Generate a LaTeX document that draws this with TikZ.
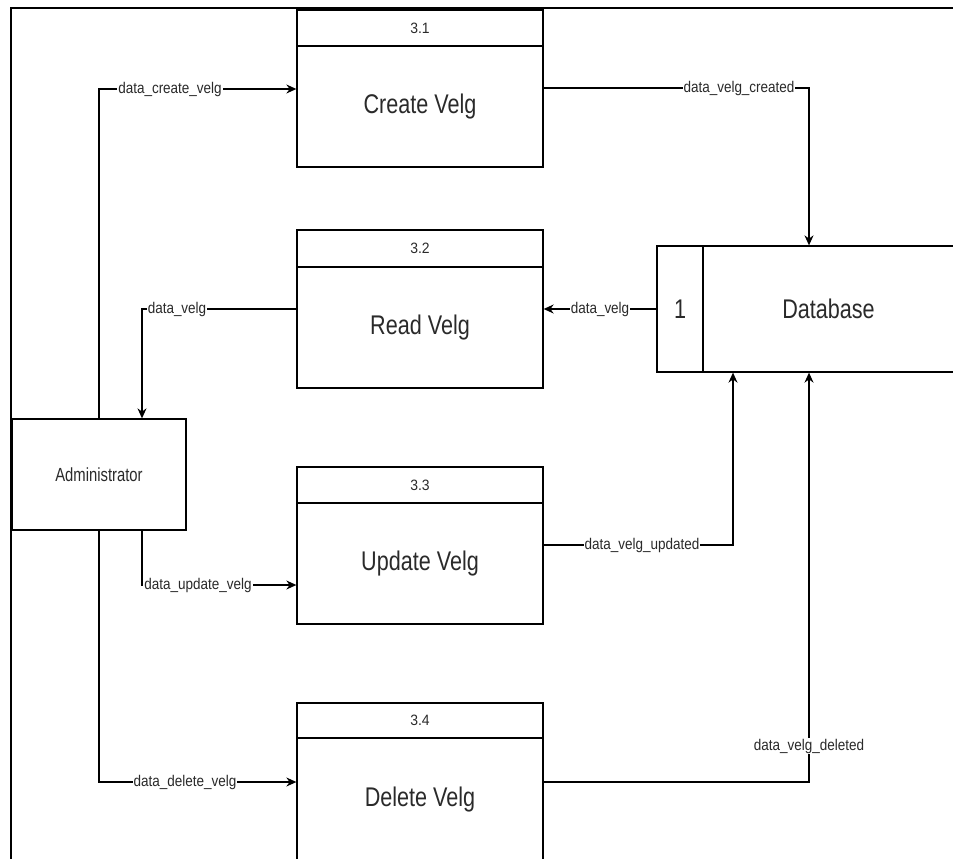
\documentclass[tikz,border=0pt]{standalone}
\usepackage{fontspec}
\setmainfont{Liberation Sans}
\newfontfamily\numfont[FakeStretch=0.93]{Liberation Sans}
\newfontfamily\titlefont[FakeStretch=0.8]{Liberation Sans}
\newfontfamily\lblfont[FakeStretch=0.87]{Liberation Sans}
\newfontfamily\admfont[FakeStretch=0.78]{Liberation Sans}
\usetikzlibrary{arrows.meta}
\definecolor{txt}{HTML}{2A2A2A}
\begin{document}
\begin{tikzpicture}[x=1pt,y=-1pt,
  boxline/.style={draw=black, line width=1.3pt},
  hdr/.style={boxline, minimum width=246pt, inner sep=0pt, text=txt,
    font=\numfont\fontsize{15}{17}\selectfont},
  bodybox/.style={boxline, minimum width=246pt, inner sep=0pt, text=txt,
    font=\titlefont\fontsize{27}{32}\selectfont},
  storebox/.style={boxline, inner sep=0pt, text=txt,
    font=\titlefont\fontsize{27}{32}\selectfont},
  entitybox/.style={boxline, inner sep=0pt, text=txt,
    font=\admfont\fontsize{19}{22}\selectfont},
  lbl/.style={fill=white, inner sep=1pt, text=txt,
    font=\lblfont\fontsize{15.5}{17}\selectfont},
  flow/.style={line width=1.3pt, -{Stealth[length=10pt,width=9pt]}}
]
\useasboundingbox (0,0) rectangle (953,859);
\clip (0,0) rectangle (953,859);

% frame
\draw[line width=2pt] (11,859) -- (11,8) -- (953,8);

% external entity
\node[entitybox, minimum width=174pt, minimum height=111pt] (admin) at (99,474.5) {Administrator};

% processes
\node[hdr, minimum height=36pt] (p1h) at (420,28) {3.1};
\node[bodybox, minimum height=121pt] (p1b) at (420,106.5) {Create Velg};

\node[hdr, minimum height=37pt] (p2h) at (420,248.5) {3.2};
\node[bodybox, minimum height=121pt] (p2b) at (420,327.5) {Read Velg};

\node[hdr, minimum height=36pt] (p3h) at (420,485) {3.3};
\node[bodybox, minimum height=121pt] (p3b) at (420,563.5) {Update Velg};

\node[hdr, minimum height=35pt] (p4h) at (420,720.5) {3.4};
\node[bodybox, minimum height=124pt] (p4b) at (420,800) {Delete Velg};

% data store
\node[storebox, minimum width=46pt, minimum height=126pt] (db1) at (680,309) {1};
\node[storebox, minimum width=251pt, minimum height=126pt] (dbm) at (828.5,309) {Database};

% flows
\draw[flow] (admin.north) |- (p1b.west |- 0,89);
\draw[flow] (p1b.east |- 0,88) -| (dbm.north -| 809,0);
\draw[flow] (db1.west) -- (p2b.east |- db1.west);
\draw[flow] (p2b.west |- 0,309) -| (admin.north -| 142,0);
\draw[flow] (admin.south -| 142,0) |- (p3b.west |- 0,585);
\draw[flow] (p3b.east |- 0,545) -| (dbm.south -| 733,0);
\draw[flow] (admin.south) |- (p4b.west |- 0,782);
\draw[flow] (p4b.east |- 0,782) -| (dbm.south -| 809,0);

% labels
\node[lbl] (l1) at (170,89) {data\_create\_velg};
\node[lbl] (l2) at (739,88) {data\_velg\_created};
\node[lbl] (l3) at (600,309) {data\_velg};
\node[lbl] (l4) at (177,309) {data\_velg};
\node[lbl] (l5) at (198,585) {data\_update\_velg};
\node[lbl] (l6) at (642,545) {data\_velg\_updated};
\node[lbl] (l7) at (185,782) {data\_delete\_velg};
\node[lbl] (l8) at (809,746) {data\_velg\_deleted};
\end{tikzpicture}
\end{document}
